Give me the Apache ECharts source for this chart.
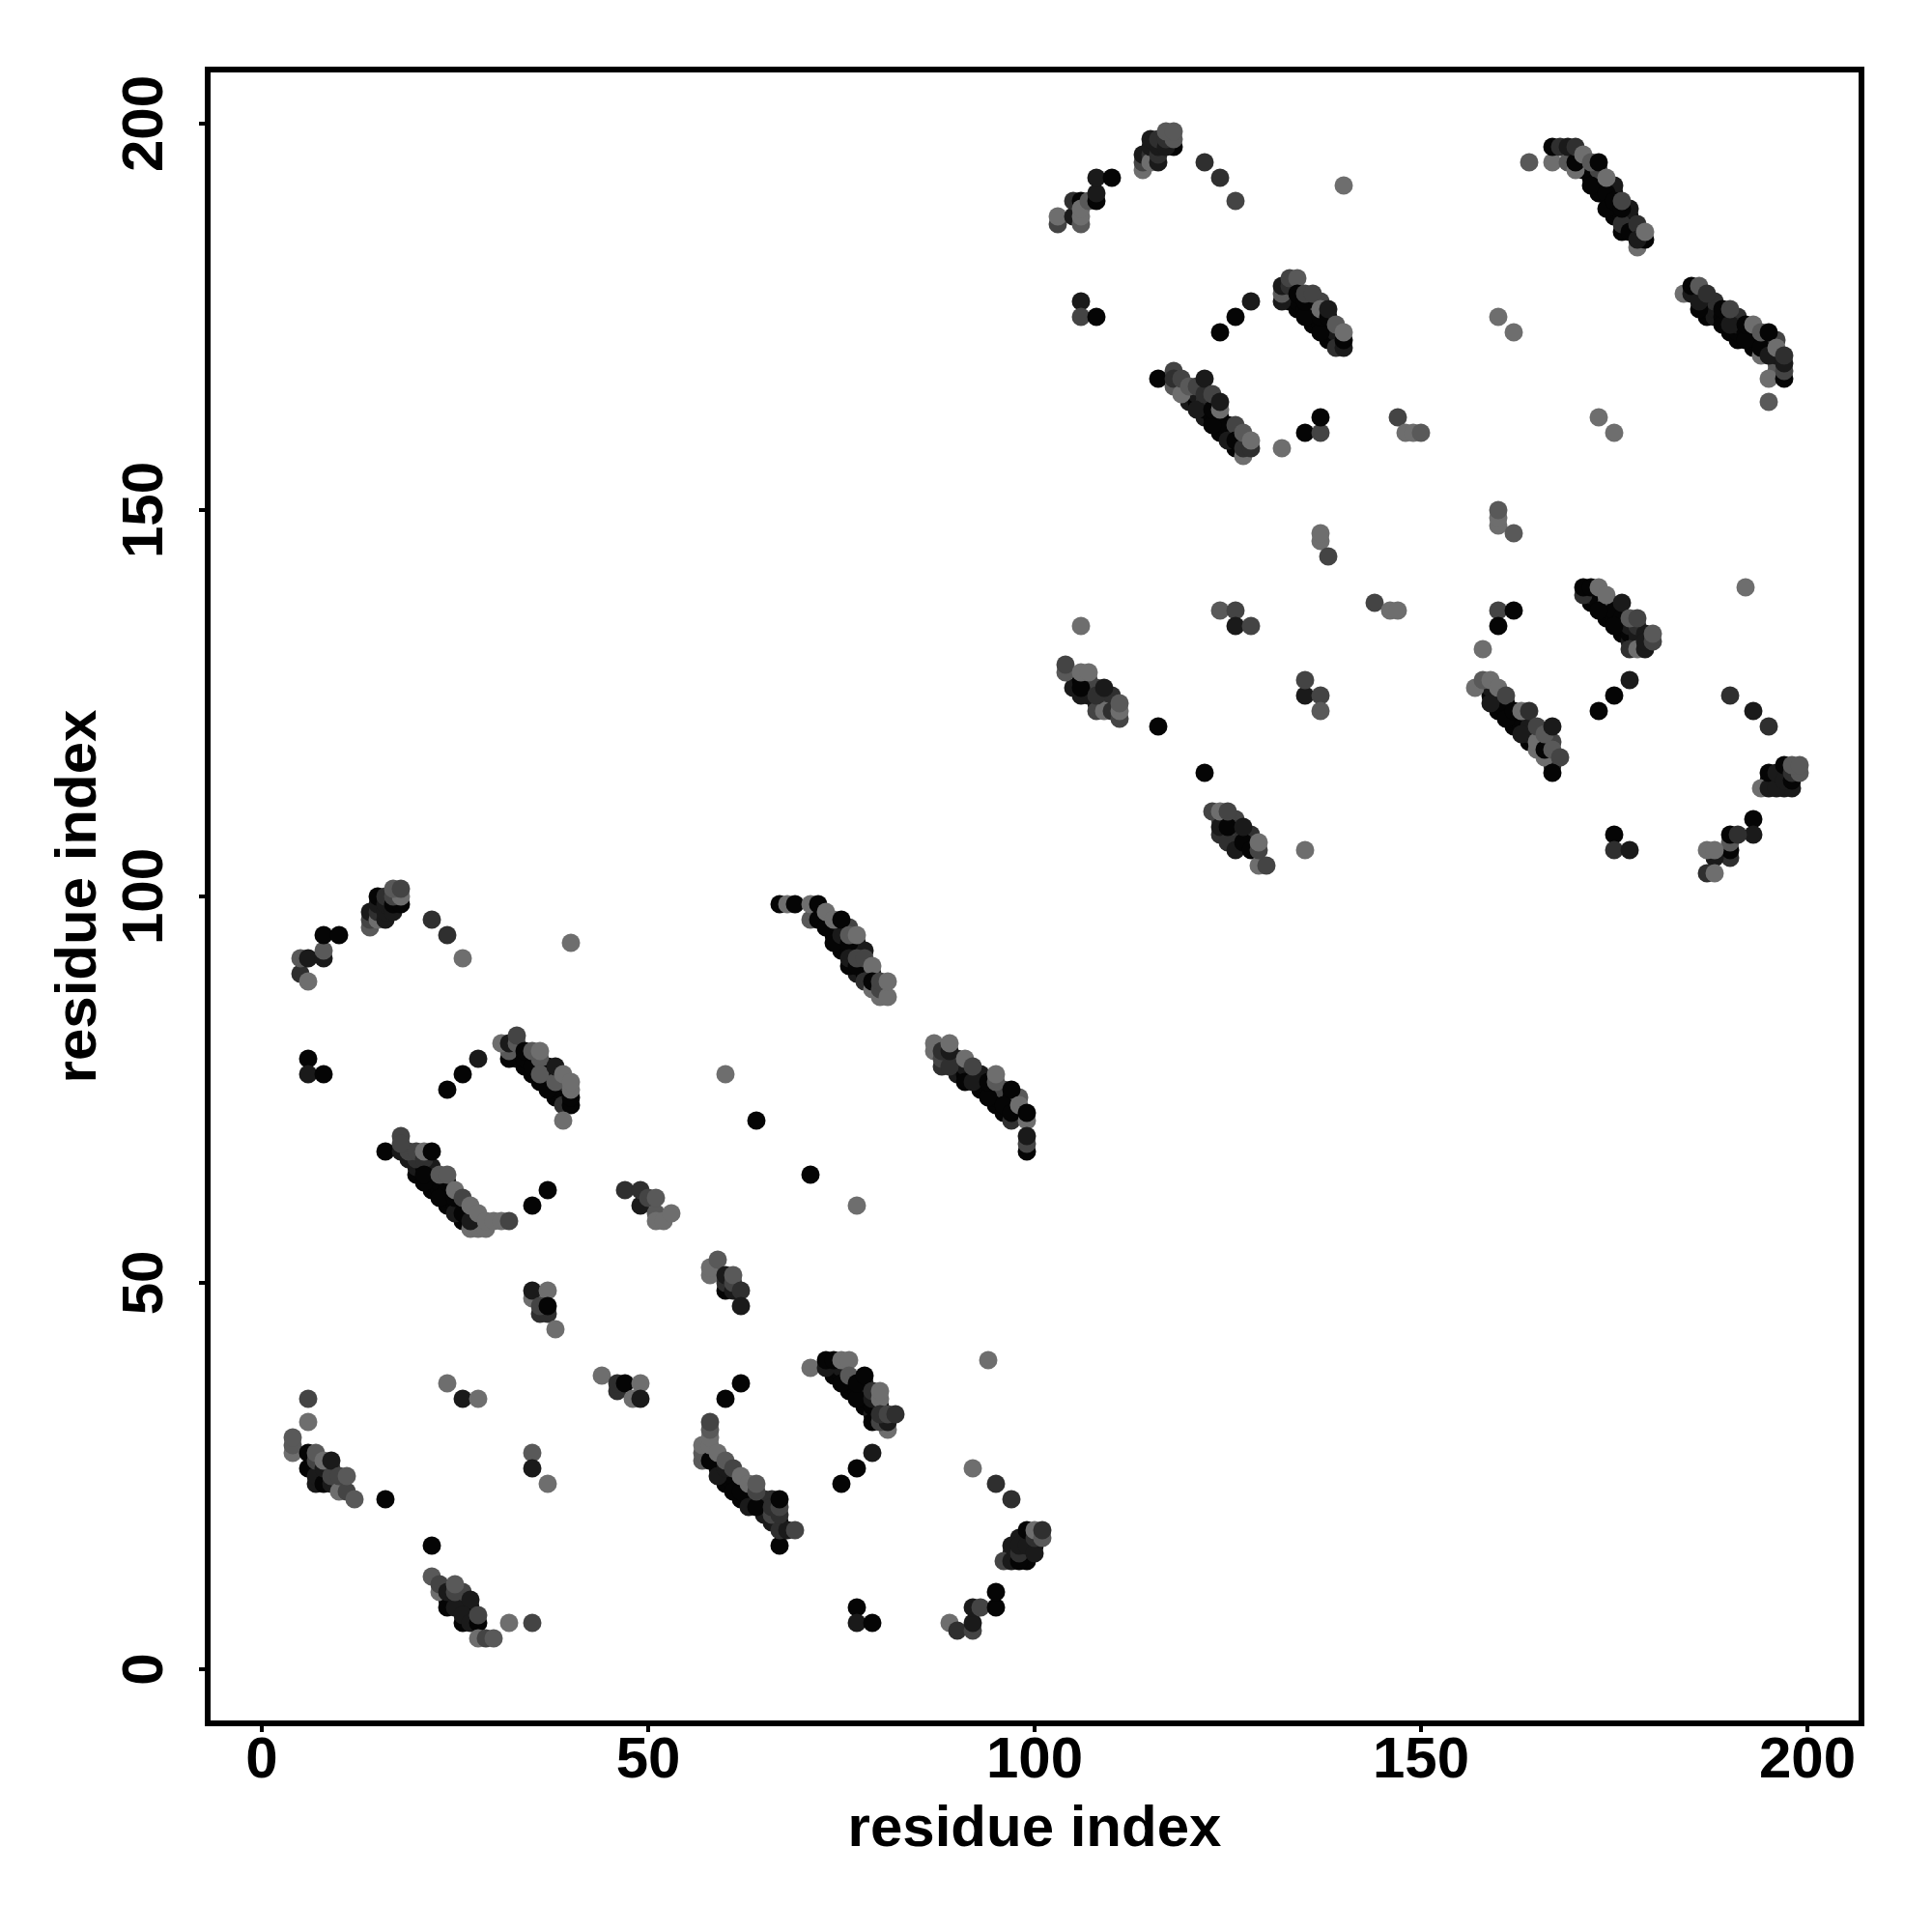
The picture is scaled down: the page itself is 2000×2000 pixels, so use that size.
<!DOCTYPE html>
<html>
<head>
<meta charset="utf-8">
<style>html,body{margin:0;padding:0;background:#fff}#c{width:2000px;height:2000px}</style>
<script src="https://cdn.jsdelivr.net/npm/echarts@6/dist/echarts.min.js"></script>
</head>
<body>
<div id="c"></div>
<script>
// each contact: [residue i, residue j, shade level 0 (darkest) .. 5 (lightest)]
const tickValues = [0, 50, 100, 150, 200];
const axisTitle = 'residue index';

const lowerHelixA = [[5,90,2],[6,89,5],[5,92,4],[6,92,1],[8,92,1],[8,93,4],[8,95,0],[10,95,0],
 [14,96,4],[14,97,3],[14,98,1],[15,97,5],[15,98,2],[15,99,1],[15,100,0],[16,97,1],[16,98,1],[16,99,1],[16,100,2],[17,98,1],[17,99,0],[18,99,0],[17,100,3],[18,100,5],[17,101,4],[18,101,3],
 [22,97,2],[24,95,2],[26,92,5],[40,94,5],[6,79,0],[6,77,1],[8,77,0],[24,75,0],[26,77,0],[28,79,1]];
const lowerArcB = [[33,79,1],[33,80,1],[34,78,0],[35,79,0],[36,76,0],[36,78,0],[37,76,0],[37,78,0],[38,74,0],[38,75,0],[38,77,0],[39,74,0],[39,75,0],[39,76,1],
 [32,79,0],[32,80,4],[31,81,5],[32,81,1],[33,81,4],[33,82,3],[34,79,0],[35,77,0],[35,78,0],[34,80,0],[36,79,4],[35,80,4],[36,80,5],
 [37,75,0],[37,77,0],[36,77,4],[38,76,4],[39,73,2],[40,73,0],[40,74,0],[39,71,5],[38,78,1],[39,77,5],[40,75,5],[40,76,5]];
const lowerArcC = [[20,64,0],[20,65,1],[21,65,0],[22,62,0],[22,63,0],[22,64,0],[22,65,1],[23,62,0],[23,63,0],[24,60,0],[24,61,0],[24,62,0],[25,60,0],[26,58,0],[26,60,0],[27,59,1],
 [19,66,1],[20,66,2],[16,67,0],[18,67,1],[19,67,3],[18,69,3],[18,68,3],[20,67,3],[21,66,2],[21,67,5],[22,67,0],
 [21,63,0],[21,64,0],[23,61,0],[24,63,0],[23,64,4],[24,64,4],[25,59,1],[25,61,0],[26,59,0],[25,62,5],[26,61,3],[27,57,5],[28,57,5],[29,57,5],[27,58,1],[27,60,5],[28,59,5],[29,58,5],[30,58,5],[31,58,5],[32,58,3],
 [35,60,0],[37,62,0]];
const lowerSparseD = [[47,62,2],[49,60,1],[49,62,2],[50,61,3],[51,59,4],[51,58,5],[52,58,5],[51,61,4],[53,59,5]];
const lowerArcE = [[72,98,0],[73,97,0],[74,95,0],[74,96,0],[75,93,0],[75,94,0],[75,96,0],[76,93,0],[77,90,1],[77,93,0],[77,94,1],[78,90,0],[78,91,0],[78,93,1],[79,90,1],[76,96,3],
 [67,99,0],[68,99,5],[69,99,0],[71,97,4],[71,99,5],[72,97,0],[72,99,0],[73,96,0],[73,98,5],[74,94,0],[75,95,1],[74,97,5],[75,97,0],[76,94,0],
 [76,95,4],[77,95,5],[76,91,0],[76,92,1],[77,91,0],[77,92,3],[78,92,3],[79,91,5],[78,89,2],[79,88,5],[79,89,0],[80,87,5],[80,88,3],[80,89,3],[81,87,5],[81,89,5]];
const lowerArcF = [[88,78,2],[90,77,1],[90,78,1],[90,79,2],[91,77,0],[91,78,1],[92,77,1],[93,75,0],[93,76,0],[93,77,1],[94,75,0],[95,73,0],[95,74,0],[95,75,0],[96,72,0],[96,74,0],[96,75,3],[97,73,0],[97,74,0],[98,72,0],[98,74,4],
 [87,80,5],[88,79,3],[87,81,5],[88,80,2],[89,78,2],[89,80,1],[89,81,5],[91,76,0],[91,79,5],[92,76,1],[92,78,3],[94,74,0],[94,76,0],[95,76,4],[95,77,5],[96,73,0],[97,71,2],[97,72,0],[97,75,0],[98,73,5],[99,71,5],[99,72,0],[99,67,0],[99,68,3],[99,69,1]];
const lowerSingles = [[60,77,5],[64,71,0],[71,64,0],[77,60,5],[58,51,5],[58,52,5],[59,53,4],[60,49,0],[60,50,2],[60,51,1],[61,49,1],[61,50,3],[61,51,4],[62,49,2],[62,47,1],
 [35,48,5],[35,49,1],[37,49,5],[36,46,2],[37,46,2],[36,47,3],[37,47,0],[38,44,5],[24,37,5],[26,35,1],[28,35,5],
 [44,38,5],[46,36,2],[46,37,2],[47,37,0],[49,37,5],[48,35,5],[49,35,1],[35,28,4],[35,26,1],[37,24,5],[6,35,3],[6,32,5]];
const lowerArcG = [[7,26,0],[8,25,0],[9,26,2],[10,24,2],[7,24,1],
 [4,28,5],[4,29,4],[4,30,4],[6,26,0],[6,28,0],[7,25,1],[7,27,3],[7,28,4],[8,24,0],[8,26,1],[8,27,5],[9,24,1],[9,25,3],[9,27,1],[10,23,5],[11,23,3],[10,25,3],[11,25,4],[12,22,4],[16,22,0],[22,16,0]];
const lowerArcH = [[24,9,1],[25,9,1],[26,8,0],[26,9,1],[27,7,0],[27,8,0],[26,10,3],
 [22,12,4],[23,10,5],[23,11,3],[24,8,0],[24,10,1],[25,8,1],[25,10,3],[25,11,4],[27,9,1],[26,6,0],[26,7,1],[27,6,1],[28,6,0],[28,7,3],[28,4,5],[29,4,3],[30,4,4],[32,6,5],[35,6,3]];
const lowerArcI = [[59,26,0],[59,27,0],[60,24,0],[60,25,0],[61,24,0],[61,25,0],[62,22,0],[62,24,0],[63,22,0],[63,23,0],[64,22,0],[65,20,1],[65,21,1],[65,22,2],[66,22,2],[67,19,0],
 [62,37,0],[60,35,0],[57,27,4],[57,28,4],[57,29,5],[58,27,0],[58,29,5],[58,30,5],[58,31,4],[58,32,3],[59,25,1],[59,28,5],[60,26,1],[60,27,4],[61,23,0],[61,26,3],[62,23,0],[62,25,5],[63,21,1],[63,24,5],[64,21,0],[64,23,3],[64,24,4],
 [66,19,1],[66,20,3],[66,21,2],[67,16,0],[67,18,2],[68,18,1],[67,20,2],[67,21,3],[69,18,3],[67,22,0]];
const lowerArcJ = [[74,38,0],[74,39,0],[75,38,0],[75,39,1],[76,36,0],[76,37,0],[77,36,0],[78,34,0],[78,35,0],[78,36,0],[78,37,1],[79,33,1],[79,34,0],[80,34,0],
 [71,39,5],[73,39,1],[73,40,0],[74,40,0],[75,37,0],[75,40,5],[76,40,5],[76,38,4],[77,35,0],[77,37,0],[78,38,0],[79,32,0],[79,35,1],[79,36,2],[80,35,5],[80,36,5],[81,31,5],[80,32,3],[81,32,1],[80,33,2],[81,33,3],[82,33,2],
 [75,24,0],[77,26,0],[79,28,1],[94,40,5]];
const lowerArcK = [[97,15,1],[98,17,1],[99,15,0],[99,17,1],[100,16,0],[99,14,0],
 [92,26,5],[95,24,2],[97,22,2],[77,8,0],[77,6,1],[79,6,0],[89,6,5],[90,5,2],[92,5,3],[92,6,1],[92,8,1],[93,8,3],[95,8,0],[95,10,0],
 [96,14,3],[97,14,1],[97,16,1],[98,14,0],[98,15,2],[98,16,1],[99,16,1],[99,18,0],[100,15,1],[100,17,2],[100,18,5],[101,17,4],[101,18,2]];

const upperHelixA = [[103,187,3],[103,188,5],[105,188,1],[105,190,2],[106,190,0],[106,187,4],[106,188,5],[106,189,5],[107,190,4],[108,190,0],[108,191,1],[108,193,1],[110,193,0],
 [114,194,5],[114,195,3],[114,196,1],[115,196,2],[115,195,5],[115,197,1],[115,198,1],[116,195,1],[116,196,2],[116,197,1],[116,198,2],[118,197,0],[117,197,1],[117,198,2],[118,198,4],[117,199,4],[118,199,4],
 [122,195,2],[124,193,2],[126,190,3],[140,192,5],[106,177,1],[106,175,3],[108,175,0],[124,173,0],[126,175,0],[128,177,1]];
const upperArcB = [[133,177,0],[133,178,1],[134,176,0],[134,177,0],[135,176,0],[136,174,0],[136,175,0],[136,176,0],[136,177,3],[137,174,0],[137,177,3],[138,172,0],[138,173,0],[138,174,0],[139,172,0],[139,173,1],
 [132,177,1],[132,178,4],[132,179,1],[133,179,2],[133,180,3],[134,180,4],[134,178,0],[135,175,0],[135,177,0],[135,178,3],[136,178,3],[137,173,0],[137,175,0],[137,176,5],[138,175,0],[138,176,1],[139,171,2],[140,171,1],[140,172,0],[139,174,4],[140,173,5]];
const upperArcC = [[120,164,1],[120,165,1],[121,164,0],[121,165,1],[122,162,1],[122,163,0],[122,164,2],[123,162,0],[124,160,0],[124,161,0],[124,162,0],[125,160,0],[125,161,0],[126,158,0],[126,160,0],[127,159,1],
 [116,167,0],[118,166,4],[118,168,3],[118,167,2],[119,165,5],[119,167,3],[120,166,4],[121,166,3],[121,163,1],[122,165,2],[122,167,1],[123,161,0],[123,163,0],[123,165,3],[124,163,5],[124,164,1],[125,159,1],[126,161,3],[126,159,0],[127,157,5],[127,158,2],[127,160,4],[128,158,2],[128,159,5],
 [132,158,5],[135,160,0],[137,160,3],[137,162,0],[147,162,3],[148,160,5],[149,160,5],[150,160,4]];
const upperArcE = [[171,194,0],[171,195,1],[172,193,0],[172,194,0],[173,191,0],[173,192,0],[173,193,0],[173,194,3],[174,192,0],[175,188,0],[175,189,0],[175,191,0],[175,192,1],[176,188,0],[177,187,0],[177,188,0],[177,189,1],[178,186,0],
 [164,195,4],[167,195,5],[167,197,0],[168,197,2],[169,195,4],[169,197,1],[170,194,5],[170,195,0],[170,197,2],[172,192,0],[171,196,5],[172,195,4],[173,195,0],[174,191,0],[174,189,0],[175,190,0],[174,193,5],[176,186,0],[176,187,2],[176,189,0],[176,190,3],[177,186,0],[178,184,5],[178,187,2],[179,185,0],[178,185,1],[179,186,5]];
const upperArcF = [[187,175,0],[187,176,0],[187,177,1],[188,175,1],[188,176,1],[188,177,2],[189,175,0],[190,173,0],[190,175,1],[191,172,0],[191,173,0],[191,174,1],[191,175,2],[192,173,0],[193,171,0],[193,172,0],[193,173,1],[194,172,0],[195,171,0],[195,172,1],[196,168,4],[196,169,4],[196,170,1],[196,172,3],
 [184,178,5],[185,178,1],[185,179,0],[186,176,0],[186,177,1],[186,179,4],[187,178,2],[189,174,0],[189,176,0],[190,174,1],[190,176,3],[192,172,0],[192,174,0],[193,174,5],[194,170,5],[194,171,0],[194,173,4],[195,170,1],[195,173,0],[195,167,5],[196,171,5],[195,164,4],[197,167,0],[197,168,3],[197,169,1],[197,170,2]];
const upperSingles = [[160,175,5],[162,173,5],[173,162,5],[175,160,5],[160,148,5],[160,149,5],[160,150,4],[162,147,4],[137,146,5],[137,147,5],[138,144,3],[144,138,3],[146,137,5],[147,137,5],
 [124,137,4],[126,137,3],[126,135,1],[128,135,3],[106,135,5],[135,126,1],[135,128,3],[137,126,3],[137,124,4],[160,137,3],[162,137,0],[160,135,0],[158,132,5],[192,140,5]];
const upperArcG = [[105,127,1],[106,128,0],[107,126,1],[107,127,3],[107,128,3],[108,125,1],[108,127,3],[109,125,2],[110,125,3],[110,126,2],
 [104,129,4],[104,130,3],[106,126,1],[106,127,0],[106,129,5],[107,129,5],[108,124,3],[109,124,5],[108,126,2],[109,127,1],[110,124,2],[111,123,3],[111,124,5],[111,125,4],[116,122,0],[122,116,0]];
const upperArcH = [[124,110,3],[125,108,1],[125,110,3],[126,107,1],[126,108,1],[126,109,3],[127,108,2],[128,107,0],[128,108,2],[126,110,3],
 [123,111,3],[124,108,2],[124,109,1],[124,111,5],[125,107,2],[125,109,0],[125,111,3],[126,106,1],[127,107,0],[127,109,1],[128,106,0],[129,104,5],[130,104,3],[129,106,3],[129,107,5],[135,106,5]];
const upperArcI = [[159,126,0],[159,127,1],[160,124,0],[160,125,0],[161,124,0],[161,125,0],[162,122,0],[162,123,0],[163,122,0],[163,123,0],[164,120,0],[164,121,1],[164,122,1],[165,121,1],[166,120,1],[167,120,3],[167,118,1],[167,117,2],
 [157,127,5],[158,128,4],[159,125,1],[159,128,5],[160,127,5],[161,123,0],[161,126,3],[162,124,0],[163,121,1],[163,124,5],[164,124,2],[165,119,5],[165,120,5],[165,122,3],[166,118,5],[166,119,0],[166,121,4],[167,119,4],[167,122,1],[168,118,3],[167,116,0]];
const upperArcJ = [[172,138,0],[172,139,1],[173,138,0],[174,136,0],[174,137,0],[174,138,4],[175,136,0],[175,137,0],[176,134,0],[176,135,0],[176,136,0],[177,133,1],[177,134,0],[177,135,1],[178,133,1],[178,134,1],[178,135,2],[179,134,1],
 [171,139,2],[171,140,0],[172,140,0],[173,137,0],[173,140,5],[174,139,5],[175,135,0],[176,138,1],[177,132,2],[178,132,5],[179,132,1],[177,136,4],[178,136,3],[179,133,1],[180,133,3],[180,134,4],
 [173,124,0],[175,126,0],[177,128,1]];
const upperArcK = [[195,115,0],[196,115,1],[197,116,0],[197,114,1],[198,114,1],
 [190,126,2],[193,124,1],[195,122,2],[175,108,0],[175,106,2],[177,106,1],[193,110,0],[193,108,1],[190,105,2],[190,106,0],[190,107,4],[190,108,0],[191,108,2],[188,105,1],[187,106,5],[188,106,5],[187,103,2],[188,103,5],
 [194,114,5],[195,114,1],[195,116,0],[196,114,1],[196,116,1],[197,115,1],[197,117,0],[198,115,0],[198,116,2],[199,116,4],[198,117,4],[199,117,4]];

const contacts = [].concat(lowerHelixA, lowerArcB, lowerArcC, lowerSparseD, lowerArcE, lowerArcF, lowerSingles, lowerArcG, lowerArcH, lowerArcI, lowerArcJ, lowerArcK,
  upperHelixA, upperArcB, upperArcC, upperArcE, upperArcF, upperSingles, upperArcG, upperArcH, upperArcI, upperArcJ, upperArcK);

const font = '"Liberation Sans", Arial, sans-serif';
const chart = echarts.init(document.getElementById('c'), null, {renderer: 'canvas'});
chart.setOption({
  animation: false,
  backgroundColor: '#fff',
  grid: {left: 215, right: 73, top: 72, bottom: 216, show: true, borderColor: '#000', borderWidth: 6, backgroundColor: 'transparent'},
  xAxis: {
    type: 'value', min: -7, max: 207,
    name: axisTitle, nameLocation: 'middle', nameGap: 80,
    nameTextStyle: {fontFamily: font, fontWeight: 'bold', fontSize: 60, color: '#000'},
    axisLine: {show: false, onZero: false}, splitLine: {show: false},
    axisTick: {show: true, length: 9, lineStyle: {color: '#000', width: 4}, customValues: tickValues},
    axisLabel: {fontFamily: font, fontWeight: 'bold', fontSize: 60, color: '#000', margin: 9, customValues: tickValues, hideOverlap: false}
  },
  yAxis: {
    type: 'value', min: -7, max: 207,
    name: axisTitle, nameLocation: 'middle', nameGap: 103,
    nameTextStyle: {fontFamily: font, fontWeight: 'bold', fontSize: 60, color: '#000'},
    axisLine: {show: false, onZero: false}, splitLine: {show: false},
    axisTick: {show: true, length: 9, lineStyle: {color: '#000', width: 4}, customValues: tickValues},
    axisLabel: {fontFamily: font, fontWeight: 'bold', fontSize: 60, color: '#000', rotate: 90, margin: 34, customValues: tickValues, hideOverlap: false}
  },
  series: [{
    type: 'scatter',
    symbol: 'circle',
    symbolSize: 19,
    data: contacts,
    clip: false,
    itemStyle: {
      opacity: 1,
      color: function (p) { const v = 5 + p.value[2] * 21; return 'rgb(' + v + ',' + v + ',' + v + ')'; }
    }
  }]
});
</script>
</body>
</html>
